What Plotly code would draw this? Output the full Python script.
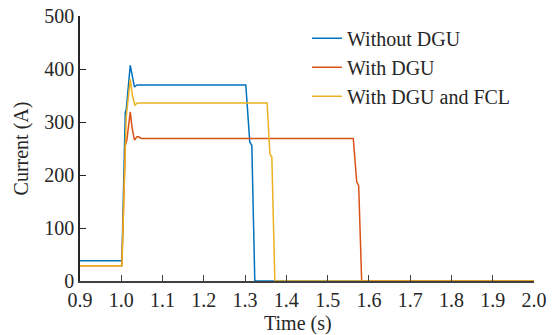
import plotly.graph_objects as go

# Series data (time in s, current in A)
t_without = [0.9, 1.0015, 1.0097, 1.0121, 1.0218, 1.027, 1.032, 1.0379, 1.3017, 1.3114, 1.3163, 1.3235, 2.0]
i_without = [38, 38, 318, 324, 407, 385, 366, 370, 370, 262, 256, 0, 0]

t_with = [0.9, 1.0015, 1.0097, 1.0135, 1.0218, 1.026, 1.032, 1.038, 1.042, 1.0485, 1.5621, 1.5704, 1.5752, 1.5825, 2.0]
i_with = [29, 29, 255, 266, 319, 290, 266, 272, 272, 269, 269, 187, 180, 0, 0]

t_fcl = [0.9, 1.0015, 1.012, 1.0218, 1.027, 1.033, 1.039, 1.3534, 1.360, 1.3648, 1.3721, 2.0]
i_fcl = [29, 29, 310, 381, 350, 332, 336, 336, 240, 234, 0, 0]

x_ticks = [0.9, 1.0, 1.1, 1.2, 1.3, 1.4, 1.5, 1.6, 1.7, 1.8, 1.9, 2.0]
y_ticks = [0, 100, 200, 300, 400, 500]

series = [
    ("Without DGU", t_without, i_without, "#0072BD"),
    ("With DGU", t_with, i_with, "#D95319"),
    ("With DGU and FCL", t_fcl, i_fcl, "#EDB120"),
]

fig = go.Figure()
for k, (name, t, i, c) in enumerate(series):
    fig.add_trace(go.Scatter(x=t, y=i, mode="lines", name=name,
                             legendgroup=f"g{k}",
                             line=dict(color=c, width=1.5)))

font = dict(family="Liberation Serif", size=20, color="#262626")
fig.update_layout(
    width=554, height=335,
    margin=dict(l=80, r=20, t=16, b=54),
    paper_bgcolor="white", plot_bgcolor="white",
    font=font,
    showlegend=True,
    legend=dict(x=0.5, y=0.99, xanchor="left", yanchor="top",
                bgcolor="rgba(0,0,0,0)", font=font, tracegroupgap=0,
                itemwidth=30),
    xaxis=dict(range=[0.9, 2.0], tickvals=x_ticks,
               ticktext=[f"{v:.1f}" for v in x_ticks],
               tickfont=font, automargin=False,
               ticks="inside", ticklen=6, tickcolor="#404040",
               showline=True, linecolor="#404040", linewidth=1.5,
               showgrid=False, zeroline=False),
    yaxis=dict(range=[0, 500], tickvals=y_ticks,
               tickfont=font, automargin=False,
               ticks="inside", ticklen=6, tickcolor="#262626",
               showline=True, linecolor="#262626", linewidth=1.5,
               showgrid=False, zeroline=False,
               title=dict(text="Current (A)", font=font, standoff=10)),
    annotations=[dict(text="Time (s)", xref="paper", yref="paper",
                      x=0.48, y=-0.16, xanchor="center", yanchor="middle",
                      showarrow=False, font=font)],
)

fig.write_html("out.html")
